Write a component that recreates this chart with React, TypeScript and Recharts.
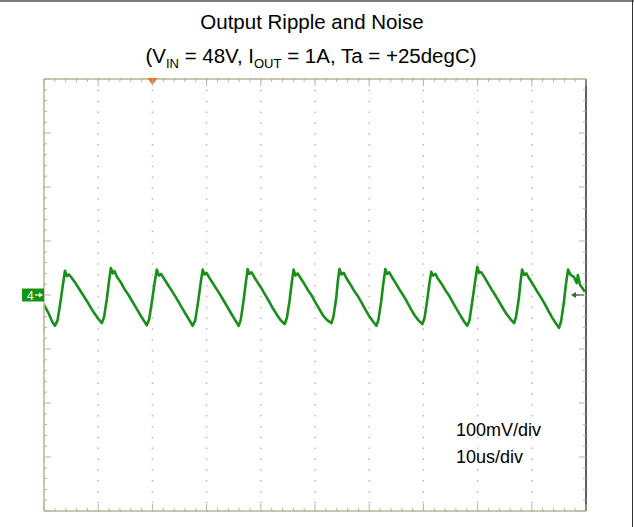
import { CartesianGrid, Line, LineChart, ReferenceDot, XAxis, YAxis } from 'recharts'

// scope capture: time in us, ripple in mV (100mV/div, 10us/div)
const timeUs = [
  0, 0.8, 1.5, 2.03, 2.5, 3.0, 3.5, 3.87, 4.2, 4.6, 5.1, 5.8, 6.5, 7.2, 7.9, 8.6, 9.3, 10.0,
  10.68, 11.1, 11.6, 12.0, 12.34, 12.7, 13.0, 13.5, 14.2, 14.9, 15.6, 16.3, 17.0, 17.7, 18.4,
  18.97, 19.4, 19.9, 20.4, 20.81, 21.2, 21.6, 22.1, 22.8, 23.5, 24.2, 24.9, 25.6, 26.3, 26.9,
  27.44, 27.9, 28.4, 28.9, 29.28, 29.6, 30.0, 30.5, 31.2, 31.9, 32.6, 33.3, 34.0, 34.7, 35.3,
  35.91, 36.3, 36.8, 37.2, 37.57, 37.9, 38.3, 38.8, 39.5, 40.2, 40.9, 41.6, 42.3, 43.0, 43.7,
  44.38, 44.8, 45.3, 45.7, 46.04, 46.4, 46.8, 47.3, 48.0, 48.7, 49.4, 50.1, 50.8, 51.5, 52.2,
  53.04, 53.4, 53.9, 54.2, 54.51, 54.9, 55.3, 55.8, 56.5, 57.2, 57.9, 58.6, 59.3, 60.0, 60.7,
  61.33, 61.7, 62.2, 62.6, 62.98, 63.3, 63.7, 64.2, 64.9, 65.6, 66.3, 67.0, 67.7, 68.4, 69.1,
  69.8, 70.2, 70.7, 71.1, 71.45, 71.8, 72.2, 72.7, 73.4, 74.1, 74.8, 75.5, 76.2, 76.9, 77.5,
  78.08, 78.5, 79.0, 79.5, 79.93, 80.3, 80.7, 81.2, 81.9, 82.6, 83.3, 84.0, 84.7, 85.4, 86.1,
  86.74, 87.1, 87.6, 87.9, 88.21, 88.6, 89.0, 89.5, 90.2, 90.9, 91.6, 92.3, 93.0, 93.7, 94.4,
  95.03, 95.4, 95.9, 96.3, 96.69, 97.1, 97.8, 98.3, 98.5, 98.9, 99.8,
]

const rippleMv = [
  -18, -33, -49, -57, -47, -15, 20, 45, 35, 38, 32, 22, 11, 0, -11, -23, -34, -44,
  -52, -40, -7, 26, 50, 40, 44, 33, 23, 10, 0, -12, -24, -36, -47,
  -56, -45, -13, 22, 47, 36, 39, 31, 20, 9, -2, -14, -26, -38, -48,
  -57, -47, -15, 22, 47, 38, 41, 32, 21, 10, -1, -13, -25, -37, -47,
  -57, -46, -12, 20, 48, 39, 42, 33, 22, 11, -1, -13, -26, -37, -47,
  -54, -43, -11, 22, 47, 36, 40, 32, 21, 9, -1, -14, -26, -38, -46,
  -52, -40, -7, 24, 48, 38, 41, 31, 20, 8, -2, -14, -27, -39, -49,
  -57, -46, -13, 21, 48, 39, 42, 33, 22, 10, -1, -13, -26, -38, -47,
  -54, -43, -10, 21, 43, 36, 39, 30, 20, 8, -2, -15, -27, -39, -49,
  -57, -47, -13, 22, 52, 41, 42, 34, 22, 10, -1, -13, -25, -36, -45,
  -52, -40, -7, 22, 47, 37, 40, 31, 20, 8, -3, -15, -28, -41, -52,
  -61, -49, -15, 20, 47, 38, 33, 22, 37, 19, 6,
]

const gridTimeTicks = [0, 10, 20, 30, 40, 50, 60, 70, 80, 90, 100]
const gridMvTicks = [-400, -300, -200, -100, 0, 100, 200, 300, 400]
const rulerTimeTicks = [
  0, 2, 4, 6, 8, 10, 12, 14, 16, 18, 20, 22, 24, 26, 28, 30, 32, 34, 36, 38, 40, 42, 44, 46, 48, 50,
  52, 54, 56, 58, 60, 62, 64, 66, 68, 70, 72, 74, 76, 78, 80, 82, 84, 86, 88, 90, 92, 94, 96, 98, 100,
]
const rulerMvTicks = [
  -400, -380, -360, -340, -320, -300, -280, -260, -240, -220, -200, -180, -160, -140, -120, -100, -80, -60, -40, -20,
  0, 20, 40, 60, 80, 100, 120, 140, 160, 180, 200, 220, 240, 260, 280, 300, 320, 340, 360, 380, 400,
]
// faint marks left outside the screen, half way between divisions
const outerMvMarks = [-350, -250, -150, 150, 250, 350]

const triggerTimeUs = 20
const groundMv = 0
const triggerLevelMv = 0

const FRAME = '#b9b39b'
const DOT = '#b8b4a2'
const TRACE = '#1a8e1a'

const data = timeUs.map((t, i) => ({ t, v: rippleMv[i] }))

function RulerTick({ x, y, payload, side }: any) {
  const step = side === 'top' || side === 'bottom' ? 10 : 100
  const len = Math.round(payload.value) % step === 0 ? 7 : 3
  let x2 = x
  let y2 = y
  if (side === 'top') y2 = y + len
  if (side === 'bottom') y2 = y - len
  if (side === 'left') x2 = x + len
  if (side === 'right') x2 = x - len
  return <line x1={x} y1={y} x2={x2} y2={y2} stroke={FRAME} strokeWidth={1} />
}

function OuterMark({ x, y }: any) {
  return <line x1={x - 37} y1={y} x2={x - 34} y2={y} stroke="#a0a0a0" strokeWidth={1} />
}

function TriggerMark({ cx, cy }: any) {
  return <polygon points={`${cx - 5},${cy - 1} ${cx + 5},${cy - 1} ${cx},${cy + 6}`} fill="#ff6a1c" />
}

function GroundMark({ cx, cy }: any) {
  return (
    <g>
      <rect x={cx - 22} y={cy - 6.5} width={22} height={13} fill="#159415" />
      <text x={cx - 17} y={cy + 4.5} fill="#fff" fontSize={12} fontFamily="Liberation Sans, Arial, sans-serif">4</text>
      <line x1={cx - 9} y1={cy} x2={cx - 2} y2={cy} stroke="#fff" strokeWidth={1.2} />
      <polygon points={`${cx - 1},${cy} ${cx - 5},${cy - 2.5} ${cx - 5},${cy + 2.5}`} fill="#fff" />
    </g>
  )
}

function LevelMark({ cx, cy }: any) {
  return (
    <g>
      <line x1={cx - 13} y1={cy} x2={cx - 2} y2={cy} stroke="#2f6e2f" strokeWidth={1.5} />
      <polygon points={`${cx - 15},${cy} ${cx - 10},${cy - 3} ${cx - 10},${cy + 3}`} fill="#2f6e2f" />
    </g>
  )
}

export default function App() {
  return (
    <div
      style={{
        position: 'absolute',
        left: 0,
        top: 0,
        width: 634,
        height: 527,
        background: '#fff',
        fontFamily: '"Liberation Sans", Arial, sans-serif',
        color: '#000',
      }}
    >
      <div style={{ position: 'absolute', left: 0, top: 0, width: 634, height: 2, background: '#7b7b7b' }} />
      <div style={{ position: 'absolute', left: 632, top: 0, width: 1, height: 527, background: '#333' }} />
      <div style={{ position: 'absolute', left: 0, top: 10, width: 624, textAlign: 'center', fontSize: 20.5, lineHeight: '24px' }}>
        Output Ripple and Noise
      </div>
      <div style={{ position: 'absolute', left: 0, top: 44, width: 622, textAlign: 'center', fontSize: 20.5, lineHeight: '24px' }}>
        (V<sub style={{ fontSize: 13 }}>IN</sub> = 48V, I<sub style={{ fontSize: 13 }}>OUT</sub> = 1A, Ta = +25degC)
      </div>
      <LineChart width={634} height={527} data={data} margin={{ top: 79, right: 48, bottom: 16, left: 44 }}>
        <XAxis xAxisId="grid" dataKey="t" type="number" domain={[0, 100]} ticks={gridTimeTicks} hide />
        <YAxis yAxisId="grid" type="number" domain={[-400, 400]} ticks={gridMvTicks} hide />
        <CartesianGrid xAxisId="grid" yAxisId="grid" stroke={DOT} strokeWidth={1.4} strokeDasharray="1.5 9.34" />
        <YAxis
          yAxisId="outer"
          type="number"
          domain={[-400, 400]}
          orientation="left"
          mirror
          ticks={outerMvMarks}
          interval={0}
          tickSize={0}
          tickMargin={0}
          tickLine={false}
          axisLine={false}
          tick={(p: any) => <OuterMark {...p} />}
        />
        <XAxis
          xAxisId="b"
          dataKey="t"
          type="number"
          domain={[0, 100]}
          allowDataOverflow
          orientation="bottom"
          mirror
          ticks={rulerTimeTicks}
          interval={0}
          tickSize={0}
          tickMargin={0}
          tickLine={false}
          axisLine={{ stroke: FRAME, strokeWidth: 1.5 }}
          tick={(p: any) => <RulerTick {...p} side="bottom" />}
        />
        <XAxis
          xAxisId="t"
          dataKey="t"
          type="number"
          domain={[0, 100]}
          allowDataOverflow
          orientation="top"
          mirror
          ticks={rulerTimeTicks}
          interval={0}
          tickSize={0}
          tickMargin={0}
          tickLine={false}
          axisLine={{ stroke: FRAME, strokeWidth: 1.5 }}
          tick={(p: any) => <RulerTick {...p} side="top" />}
        />
        <YAxis
          yAxisId="l"
          type="number"
          domain={[-400, 400]}
          allowDataOverflow
          orientation="left"
          mirror
          ticks={rulerMvTicks}
          interval={0}
          tickSize={0}
          tickMargin={0}
          tickLine={false}
          axisLine={{ stroke: FRAME, strokeWidth: 1.5 }}
          tick={(p: any) => <RulerTick {...p} side="left" />}
        />
        <YAxis
          yAxisId="r"
          type="number"
          domain={[-400, 400]}
          allowDataOverflow
          orientation="right"
          mirror
          ticks={rulerMvTicks}
          interval={0}
          tickSize={0}
          tickMargin={0}
          tickLine={false}
          axisLine={{ stroke: '#5e5e5e', strokeWidth: 2 }}
          tick={(p: any) => <RulerTick {...p} side="right" />}
        />
        <Line
          xAxisId="b"
          yAxisId="l"
          dataKey="v"
          type="linear"
          stroke={TRACE}
          strokeWidth={2.6}
          strokeLinejoin="round"
          dot={false}
          isAnimationActive={false}
        />
        <ReferenceDot xAxisId="t" yAxisId="l" x={triggerTimeUs} y={400} shape={(p: any) => <TriggerMark {...p} />} />
        <ReferenceDot xAxisId="b" yAxisId="l" x={0} y={groundMv} shape={(p: any) => <GroundMark {...p} />} />
        <ReferenceDot xAxisId="b" yAxisId="l" x={100} y={triggerLevelMv} shape={(p: any) => <LevelMark {...p} />} />
      </LineChart>
      <div style={{ position: 'absolute', left: 456, top: 419, fontSize: 18, lineHeight: '22px' }}>100mV/div</div>
      <div style={{ position: 'absolute', left: 456, top: 446, fontSize: 18, lineHeight: '22px' }}>10us/div</div>
    </div>
  )
}
